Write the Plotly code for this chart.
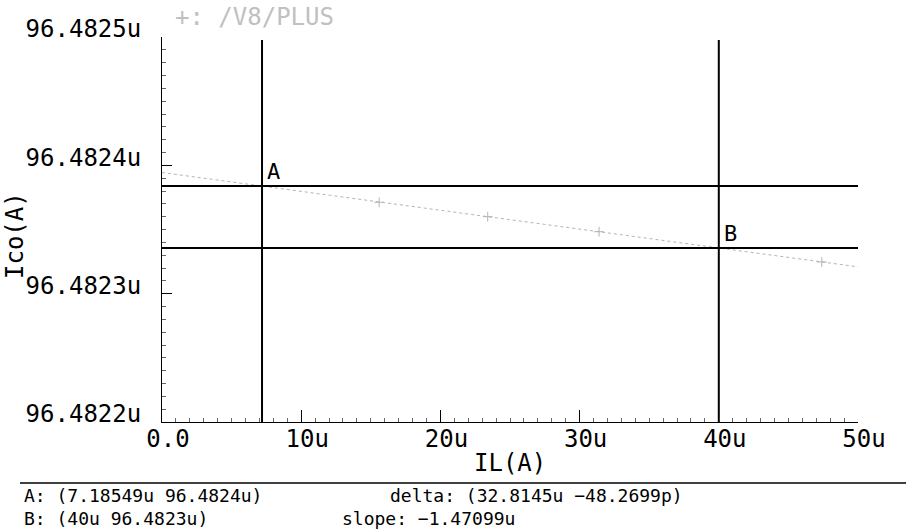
import plotly.graph_objects as go

# ---- data (x in u-amps, y in u-amps) ----
il_x = [0.0, 7.18549, 15.6, 23.4, 31.4, 40.0, 47.4, 50.0]
ico_y = [96.4823944, 96.4823839, 96.4823712, 96.4823600, 96.4823483, 96.4823356, 96.4823247, 96.4823209]
marker_x = [15.6, 23.4, 31.4, 47.4]
marker_y = [96.4823712, 96.4823600, 96.4823483, 96.4823247]

cursor_a = (7.18549, 96.4823839)
cursor_b = (40.0, 96.4823356)

x_ticks = [0, 10, 20, 30, 40, 50]
x_ticktext = ["0.0", "10u", "20u", "30u", "40u", "50u"]
y_ticks = [96.4822, 96.4823, 96.4824, 96.4825]
y_ticktext = ["96.4822u", "96.4823u", "96.4824u", "96.4825u"]

trace_name = "+: /V8/PLUS"
x_title = "IL(A)"
y_title = "Ico(A)"
readout_a = "A: (7.18549u 96.4824u)"
readout_b = "B: (40u 96.4823u)"
readout_delta = "delta: (32.8145u \u221248.2699p)"
readout_slope = "slope: \u22121.47099u"

W, H = 906, 529
L, R, T, B = 162, 48, 37, 107
PW, PH = W - L - R, H - T - B


def px(x):
    return (x - L) / PW


def py(y):
    return (H - B - y) / PH


MONO = "DejaVu Sans Mono"

fig = go.Figure()
fig.add_trace(go.Scatter(x=il_x, y=ico_y, mode="lines",
                         line=dict(color="#b4b4b4", width=1, dash="dot"),
                         hoverinfo="skip", showlegend=False))
fig.add_trace(go.Scatter(x=marker_x, y=marker_y, mode="markers",
                         marker=dict(symbol="cross-thin", size=7,
                                     line=dict(color="#b4b4b4", width=1)),
                         hoverinfo="skip", showlegend=False))

shapes = []
for cx in (cursor_a[0], cursor_b[0]):
    shapes.append(dict(type="line", xref="x", yref="paper", x0=cx, x1=cx,
                       y0=0, y1=py(40), line=dict(color="black", width=2)))
for cy in (cursor_a[1], cursor_b[1]):
    shapes.append(dict(type="line", xref="x", yref="y", x0=0, x1=50,
                       y0=cy, y1=cy, line=dict(color="black", width=2)))
shapes.append(dict(type="line", xref="paper", yref="paper", x0=px(20), x1=px(906),
                   y0=py(483), y1=py(483), line=dict(color="black", width=1.5)))

ann = []
ann.append(dict(x=cursor_a[0], y=cursor_a[1], xref="x", yref="y", text="A",
                showarrow=False, xanchor="left", yanchor="bottom", xshift=3,
                font=dict(family=MONO, size=22, color="black")))
ann.append(dict(x=cursor_b[0], y=cursor_b[1], xref="x", yref="y", text="B",
                showarrow=False, xanchor="left", yanchor="bottom", xshift=3,
                font=dict(family=MONO, size=22, color="black")))
ann.append(dict(x=px(173), y=py(17), xref="paper", yref="paper", text=trace_name,
                showarrow=False, xanchor="left", yanchor="middle",
                font=dict(family=MONO, size=24, color="#c0c0c0")))
ann.append(dict(x=px(510), y=py(463), xref="paper", yref="paper", text=x_title,
                showarrow=False, xanchor="center", yanchor="middle",
                font=dict(family=MONO, size=24, color="black")))
ann.append(dict(x=px(15), y=py(236), xref="paper", yref="paper", text=y_title,
                showarrow=False, xanchor="center", yanchor="middle", textangle=-90,
                font=dict(family=MONO, size=24, color="black")))
for txt, x0, y0 in ((readout_a, 22, 495), (readout_b, 22, 518),
                    (readout_delta, 388, 495), (readout_slope, 340, 518)):
    ann.append(dict(x=px(x0), y=py(y0), xref="paper", yref="paper", text=txt,
                    showarrow=False, xanchor="left", yanchor="middle",
                    font=dict(family=MONO, size=18, color="black")))

fig.update_layout(
    width=W, height=H,
    margin=dict(l=L, r=R, t=T, b=B, pad=0),
    paper_bgcolor="white", plot_bgcolor="white",
    showlegend=False,
    shapes=shapes, annotations=ann,
    xaxis=dict(range=[0, 50], tickvals=x_ticks, ticktext=x_ticktext,
               showgrid=False, zeroline=False, showline=True, linecolor="black",
               linewidth=1, ticks="inside", ticklen=12, tickcolor="black",
               tickfont=dict(family=MONO, size=24, color="black"),
               ticklabelstandoff=-5, ticklabelshift=6,
               minor=dict(dtick=1, ticks="inside", ticklen=4, tickcolor="#666666",
                          showgrid=False)),
    yaxis=dict(range=[96.4822, 96.4825], tickvals=y_ticks, ticktext=y_ticktext,
               showgrid=False, zeroline=False, showline=True, linecolor="black",
               linewidth=1, ticks="inside", ticklen=10, tickcolor="black",
               tickfont=dict(family=MONO, size=24, color="black"),
               ticklabelstandoff=15, ticklabelshift=-8,
               minor=dict(dtick=0.00001, ticks="inside", ticklen=4, tickcolor="#666666",
                          showgrid=False)),
)

fig.write_html("out.html",
               config={"displayModeBar": False},
               post_script="document.body.style.margin='0px';"
                           "document.body.style.overflow='hidden';")
